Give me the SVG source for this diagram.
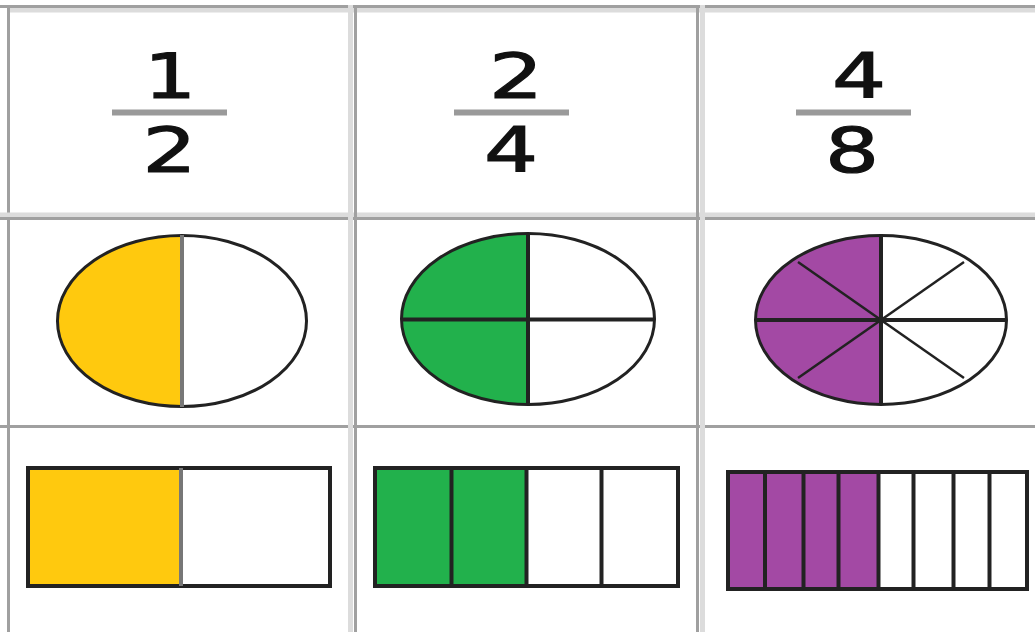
<svg xmlns="http://www.w3.org/2000/svg" width="1035" height="632" viewBox="0 0 1035 632">
<style>
.grid{stroke:#a0a0a0;stroke-width:3;fill:none}
.gridl{stroke:#dcdcdc;stroke-width:5;fill:none}
.num{font-family:"DejaVu Sans",Verdana,sans-serif;font-size:63px;fill:#111;stroke:#111;stroke-width:1.2;text-anchor:middle}
.bar{stroke:#9a9a9a;stroke-width:6}
.out{stroke:#222;stroke-width:3;fill:none}
.div{stroke:#222;stroke-width:4;fill:none}
.divg{stroke:#777;stroke-width:4;fill:none}
.thin{stroke:#222;stroke-width:2.5;fill:none}
</style>
<rect width="1035" height="632" fill="#fff"/>
<g id="grid">
<line class="gridl" x1="8" y1="10" x2="1035" y2="10" stroke-width="3"/>
<line class="grid" x1="0" y1="6.5" x2="1035" y2="6.5"/>
<line class="grid" x1="8.5" y1="5" x2="8.5" y2="632" stroke-width="4"/>
<line class="gridl" x1="0" y1="215" x2="1035" y2="215" stroke-width="4"/>
<line class="grid" x1="0" y1="218.5" x2="1035" y2="218.5"/>
<line class="grid" x1="0" y1="426.5" x2="1035" y2="426.5"/>
<line class="gridl" x1="350.5" y1="5" x2="350.5" y2="632"/>
<line class="grid" x1="355.5" y1="5" x2="355.5" y2="632" stroke-width="5"/>
<line class="grid" x1="697.5" y1="5" x2="697.5" y2="632" stroke-width="5"/>
<line class="gridl" x1="702.5" y1="5" x2="702.5" y2="632"/>
</g>
<g id="frac-1-2">
<text class="num" transform="translate(170,98) scale(1.3,1)">1</text>
<line class="bar" x1="112" y1="112.5" x2="227" y2="112.5"/>
<text class="num" transform="translate(169.5,172) scale(1.35,1)">2</text>
</g>
<g id="frac-2-4">
<text class="num" transform="translate(516,98) scale(1.35,1)">2</text>
<line class="bar" x1="454" y1="112.5" x2="569" y2="112.5"/>
<text class="num" transform="translate(511,172) scale(1.35,1)">4</text>
</g>
<g id="frac-4-8">
<text class="num" transform="translate(859,98) scale(1.35,1)">4</text>
<line class="bar" x1="796" y1="112.5" x2="911" y2="112.5"/>
<text class="num" transform="translate(852,172) scale(1.35,1)">8</text>
</g>
<g id="ellipse-halves">
<path d="M182,235 A125,86 0 0 0 182,407 Z" fill="#ffc90e"/>
<ellipse class="out" cx="182" cy="321" rx="124.5" ry="85.5"/>
<line class="divg" x1="182" y1="235" x2="182" y2="407"/>
</g>
<g id="ellipse-quarters">
<path d="M528,233 A127,86 0 0 0 528,405 Z" fill="#22b14c"/>
<ellipse class="out" cx="528" cy="319" rx="126.5" ry="85.5"/>
<line class="div" x1="401" y1="319.5" x2="655" y2="319.5" stroke="#333"/>
<line class="div" x1="528" y1="233" x2="528" y2="405" stroke="#1a3a22"/>
</g>
<g id="ellipse-eighths">
<path d="M881,235 A126,85 0 0 0 881,405 Z" fill="#a349a4"/>
<ellipse class="out" cx="881" cy="320" rx="125.5" ry="84.5"/>
<line class="thin" x1="798" y1="262" x2="964" y2="378"/>
<line class="thin" x1="798" y1="378" x2="964" y2="262"/>
<line class="div" x1="756" y1="320" x2="1006" y2="320" stroke="#555"/>
<line class="div" x1="881" y1="235" x2="881" y2="405" stroke="#666"/>
</g>
<g id="bar-halves">
<rect x="28" y="468" width="152" height="118" fill="#ffc90e"/>
<rect x="28" y="468" width="302" height="118" class="div"/>
<line class="divg" x1="181" y1="468" x2="181" y2="586" stroke="#6b5510"/>
</g>
<g id="bar-quarters">
<rect x="375" y="468" width="151" height="118" fill="#22b14c"/>
<rect x="375" y="468" width="303" height="118" class="div"/>
<line class="div" x1="451.5" y1="468" x2="451.5" y2="586" stroke="#112211"/>
<line class="div" x1="526.5" y1="468" x2="526.5" y2="586" stroke="#0b220f"/>
<line class="div" x1="601.5" y1="468" x2="601.5" y2="586"/>
</g>
<g id="bar-eighths">
<rect x="728" y="472" width="150" height="117" fill="#a349a4"/>
<rect x="728" y="472" width="299" height="117" class="div"/>
<line class="div" x1="765" y1="472" x2="765" y2="589" stroke="#4a2a4a"/>
<line class="div" x1="803.5" y1="472" x2="803.5" y2="589"/>
<line class="div" x1="838.5" y1="472" x2="838.5" y2="589"/>
<line class="div" x1="878.5" y1="472" x2="878.5" y2="589"/>
<line class="div" x1="913.5" y1="472" x2="913.5" y2="589"/>
<line class="div" x1="953.5" y1="472" x2="953.5" y2="589"/>
<line class="div" x1="989.5" y1="472" x2="989.5" y2="589"/>
</g>
</svg>
